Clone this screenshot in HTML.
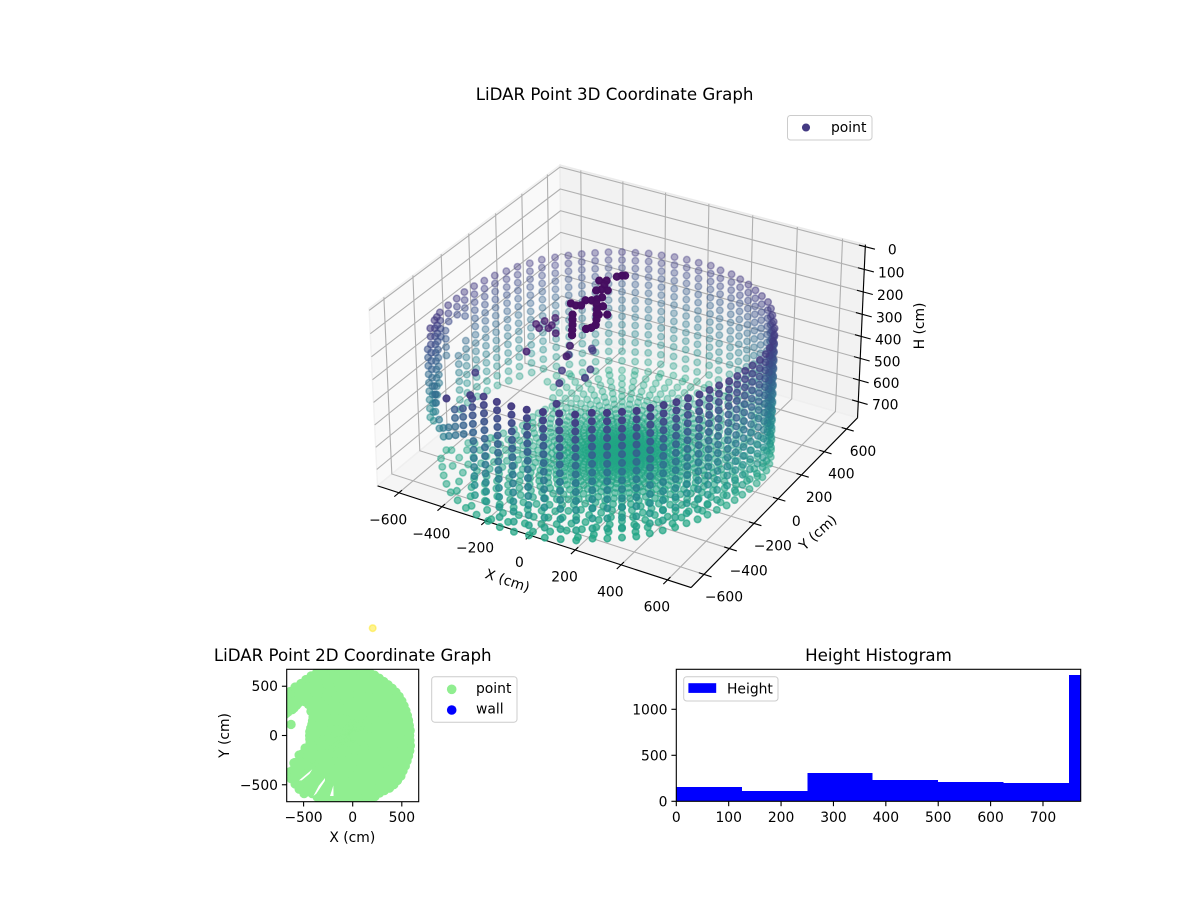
<!DOCTYPE html>
<html>
<head>
<meta charset="utf-8">
<title>LiDAR Point Graphs</title>
<style>
html,body{margin:0;padding:0;background:#fff;}
svg{display:block;font-family:"DejaVu Sans","Liberation Sans",sans-serif;}
text{fill:#000;}
.t{font-size:13.89px;}
.title{font-size:16.67px;text-anchor:middle;}
</style>
</head>
<body>
<svg id="figure" xmlns="http://www.w3.org/2000/svg" width="1200" height="900" viewBox="0 0 1200 900">
  <defs>
    <clipPath id="planClip"><rect x="286.7" y="669.3" width="132" height="132.4"/></clipPath>
    <clipPath id="histClip"><rect x="676.3" y="669.3" width="404.4" height="132"/></clipPath>
  </defs>
  <g id="chart3d"></g>
  <text class="title" x="614.6" y="100">LiDAR Point 3D Coordinate Graph</text>
  <text class="t" text-anchor="middle" transform="translate(506,585) rotate(18.5)">X (cm)</text>
  <text class="t" text-anchor="middle" transform="translate(821,536) rotate(-42)">Y (cm)</text>
  <text class="t" text-anchor="middle" transform="translate(924,326) rotate(-90)">H (cm)</text>
  <g>
    <rect x="787.5" y="115.5" width="84.5" height="24.5" rx="3" fill="#fff" fill-opacity="0.8" stroke="#ccc"/>
    <circle cx="806" cy="127.5" r="3.3" fill="#443a83" stroke="#443a83" stroke-width="1.5"/>
    <text class="t" x="831" y="132">point</text>
  </g>

  <g id="plan">
    <g id="planPoints" clip-path="url(#planClip)"></g>
    <rect x="286.7" y="669.3" width="132" height="132.4" fill="none" stroke="#000" stroke-width="1.11"/>
    <g id="planTicks"></g>
  </g>
  <text class="title" x="352.7" y="661">LiDAR Point 2D Coordinate Graph</text>
  <text class="t" x="352.3" y="842" text-anchor="middle">X (cm)</text>
  <text class="t" text-anchor="middle" transform="translate(229,735.5) rotate(-90)">Y (cm)</text>
  <g>
    <rect x="431.7" y="676.7" width="85.3" height="45.5" rx="3" fill="#fff" fill-opacity="0.8" stroke="#ccc"/>
    <circle cx="451.7" cy="689.3" r="4.8" fill="#90ee90"/>
    <text class="t" x="476" y="693">point</text>
    <circle cx="451.7" cy="710" r="4.8" fill="#0000ff"/>
    <text class="t" x="476" y="713.5">wall</text>
  </g>

  <g id="hist">
    <g id="histBars" clip-path="url(#histClip)" shape-rendering="crispEdges"></g>
    <rect x="676.3" y="669.3" width="404.4" height="132" fill="none" stroke="#000" stroke-width="1.11"/>
    <g id="histTicks"></g>
  </g>
  <text class="title" x="878.5" y="661">Height Histogram</text>
  <g>
    <rect x="683.7" y="676.7" width="94.3" height="24.3" rx="3" fill="#fff" fill-opacity="0.8" stroke="#ccc"/>
    <rect x="688.4" y="683.2" width="27.8" height="9.7" fill="#0000ff"/>
    <text class="t" x="727" y="693.5">Height</text>
  </g>
</svg>
<script>
// ---- 3D axis values ----
const xTicks = [-600,-400,-200,0,200,400,600];
const yTicks = [-600,-400,-200,0,200,400,600];
const hTicks = [0,100,200,300,400,500,600,700];
const wallRowHeights = [220,256,292,328,365,402,440,478,516,555,595,635,680,725];
const wallAzimuth = [0,5,10,15,20,25,30,35,40,45,50,55,60,65,70,75,80,85,90,95,100,105,110,115,120,125,130,135,140,145,150,155,160,165,170,175,180,185,185,190,190,195,196,200,203,205,208,210,215,220,225,230,235,240,245,250,255,260,265,270,275,280,285,290,295,300,305,310,315,320,325,330,335,340,345,350,355];
const wallRadius = [558,565,570,572,575,576,577,578,582,590,597,595,596,599,601,605,600,608,603,604,606,604,608,607,611,613,613,616,620,625,632,632,638,640,648,654,662,672,672,677,677,690,700,706,710,715,740,725,715,715,715,715,715,715,715,715,712,706,698,688,675,662,652,627,620,611,606,592,583,577,568,564,557,553,556,554,555];
const wallRowFrom = [0,0,0,0,0,0,0,0,0,0,0,0,0,0,0,0,0,0,0,0,0,0,0,0,0,0,0,0,0,0,0,0,0,0,0,0,0,0,6,0,7,0,3,0,0,0,3,0,6,6,8,8,7,4,3,1,0,0,0,0,0,0,0,0,0,0,0,0,0,0,0,0,0,0,0,0,0];
const wallRowTo = [13,13,13,13,13,13,13,13,13,13,13,13,13,13,13,13,13,13,13,13,13,13,13,13,13,13,13,13,13,13,13,13,13,13,13,13,13,3,13,2,13,2,6,3,8,9,11,11,9,7,9,9,8,7,6,12,12,13,13,13,13,13,13,13,13,13,13,13,13,13,13,13,13,13,13,13,13];
const floorAzimuth = [0,5,10,15,20,25,30,35,40,45,50,55,60,65,70,75,80,85,90,95,100,105,110,115,120,125,130,135,140,145,150,155,160,165,170,175,180,185,190,195,200,205,210,215,220,225,230,235,240,245,250,255,260,265,270,275,280,285,290,295,300,305,310,315,320,325,330,335,340,345,350,355];
const floorExtent = [558,565,570,572,575,576,577,578,582,590,597,595,596,599,601,605,600,608,603,604,606,604,608,607,611,613,613,616,620,625,600,480,430,430,430,430,430,430,450,480,520,600,680,700,700,705,710,715,715,715,710,706,706,698,688,675,662,652,627,620,611,606,592,583,577,568,564,557,553,556,554,555];
const floorRings = [20,40,65,90,115,140,165,195,225,255,290,325,365,405,450,500,550,600,660];
const floorRingsAlternate = [30,52,78,102,128,152,180,210,240,272,307,345,385,428,475,525,575,630,690];
const floorHeight = 770;
// dark returns above the floor: x, y, height (cm)
const clutterX = [-111,-87,-70,-76,-56,-43,-34,-43,-77,-109,-67,-85,-80,-67,-54,-44,-24,-4,15,34,51,48,36,22,49,4,-62,-43,-23,-4,15];
const clutterY = [-188,-192,-183,-141,-129,-113,-90,-33,1,17,-39,31,-55,77,94,100,-147,-180,-214,-247,-282,-309,-326,-210,-194,-148,-258,-291,-324,-358,-391];
const clutterH = [50,50,50,50,50,50,50,50,50,50,50,50,50,50,50,50,50,50,50,50,50,50,50,50,50,50,50,50,50,50,50];
const strayX = [-188,-162,-172,-132,-150,-133,-89,4,33,-130,-21,-72,-34,5,-10,53,67,72,-303,-232,-294];
const strayY = [-312,-333,-277,-316,-237,-290,-335,-388,-461,-475,-189,-272,-384,-468,-201,-325,-388,-599,-557,-703,-766];
const strayH = [100,100,100,100,100,100,100,100,100,120,220,220,220,220,220,220,220,220,220,220,220];
const outlierX = [-602];
const outlierY = [-866];
const outlierH = [1300];

// ---- 2D plan values ----
const planTicks = [-500,0,500];
const planAzimuth = [0,5,10,15,20,25,30,35,40,45,50,55,60,65,70,75,80,85,90,95,100,105,110,115,120,125,130,135,140,145,150,155,160,165,170,175,180,185,190,195,200,205,210,215,220,225,230,235,240,245,250,255,260,265,270,275,280,285,290,295,300,305,310,315,320,325,330,335,340,345,350,355];
const planExtent = [580,587,585,588,592,597,603,610,617,622,625,628,632,640,650,665,685,695,700,710,715,720,725,730,735,738,740,745,765,778,490,445,435,430,433,438,438,438,440,500,580,660,740,765,765,770,770,720,722,740,730,710,700,700,700,700,700,690,660,645,645,652,650,645,640,625,618,610,605,600,596,585];
const planRings = [20,40,65,90,115,140,165,195,225,255,290,325,365,405,450,500,550,600,650,700,740];
const planBandAzimuth = [147,150,152,155,157,160,162,165,167];
const planBandStart = [640,645,650,660,670,700,715,735,750];
const planBlobX = [-628];
const planBlobY = [112];
const planSliverA = [[-546,-455],[-411,-343],[-440,-390],[-520,-455]];
const planSliverB = [[-400,-614],[-345,-510],[-282,-431],[-284,-462],[-370,-590]];
const planSliverC = [[-231,-614],[-197,-506],[-195,-614]];

// ---- histogram values ----
const histEdges = [0,125,250,375,500,625,750,875];
const histCounts = [156,112,308,232,210,199,1373];
const histXTicks = [0,100,200,300,400,500,600,700];
const histYTicks = [0,500,1000];

// ---- axis functions ----
const NS = 'http://www.w3.org/2000/svg';
const xyLimit = 700, hTop = -9, hBottom = 775;
const halfXY = 0.5952, halfH = 0.3346, camDist = 10;
const radialCalibration = 700 / 680;
function project(x, y, h) {
  const dx = x / xyLimit * halfXY;
  const dy = y / xyLimit * halfXY;
  const dz = ((hTop + hBottom) / 2 - h) / (hBottom - hTop) * 2 * halfH;
  const cu = 0.866 * dx + 0.5 * dy;
  const cv = -0.25 * dx + 0.433 * dy + 0.866 * dz;
  const cw = 0.433 * dx - 0.75 * dy + 0.5 * dz;
  const w = camDist - cw;
  return {X: 622 + 3000 * cu / w, Y: 365 - 3025 * cv / w, depth: cw};
}
function planX(v) { return 352.7 + v * 132 / 1344; }
function planY(v) { return 735.5 - v * 132.4 / 1344; }
function histX(v) { return 676.3 + v * 404.4 / 772; }
function histY(v) { return 801.3 - v * 0.092; }
const viridisStops = ['#440154','#482475','#414487','#355f8d','#2a788e','#21918c','#22a884','#44bf70','#7ad151','#bddf26','#fde725'];
function hexChannel(c, i) { return parseInt(c.substr(1 + i * 2, 2), 16); }
function viridis(t) {
  const p = Math.max(0, Math.min(1, t)) * 10;
  const i = Math.min(9, Math.floor(p));
  const f = p - i;
  const ch = [0,1,2].map(function (k) {
    return Math.round(hexChannel(viridisStops[i], k) * (1 - f) + hexChannel(viridisStops[i + 1], k) * f);
  });
  return 'rgb(' + ch.join(',') + ')';
}
function make(tag, parent, attrs) {
  const el = document.createElementNS(NS, tag);
  for (const k in attrs) el.setAttribute(k, attrs[k]);
  parent.appendChild(el);
  return el;
}
function pts(list) {
  return list.map(function (p) { return p.X.toFixed(2) + ',' + p.Y.toFixed(2); }).join(' ');
}

// ---- 3D chart ----
const g3 = document.getElementById('chart3d');
const xA = -xyLimit, xB = xyLimit, yA = -xyLimit, yB = xyLimit;

const paneLeft = make('polygon', g3, {points: pts([project(xA,yA,hBottom),project(xA,yB,hBottom),project(xA,yB,hTop),project(xA,yA,hTop)]), fill: '#f9f9f9', stroke: '#f2f2f2', 'stroke-width': 1.5});


const paneBack = make('polygon', g3, {points: pts([project(xA,yB,hBottom),project(xB,yB,hBottom),project(xB,yB,hTop),project(xA,yB,hTop)]), fill: '#f2f2f2', stroke: '#ebebeb', 'stroke-width': 1.5});


const paneFloor = make('polygon', g3, {points: pts([project(xA,yA,hBottom),project(xB,yA,hBottom),project(xB,yB,hBottom),project(xA,yB,hBottom)]), fill: '#f5f5f5', stroke: '#efefef', 'stroke-width': 1.5});



const gridStyle = {fill: 'none', stroke: '#b0b0b0', 'stroke-width': 1.11};
xTicks.forEach(function (v) {
  const line = make('polyline', g3, Object.assign({points: pts([project(v,yA,hBottom),project(v,yB,hBottom),project(v,yB,hTop)])}, gridStyle));
  
  
});
yTicks.forEach(function (v) {
  const line = make('polyline', g3, Object.assign({points: pts([project(xB,v,hBottom),project(xA,v,hBottom),project(xA,v,hTop)])}, gridStyle));
  
  
});
hTicks.forEach(function (v) {
  const line = make('polyline', g3, Object.assign({points: pts([project(xA,yA,v),project(xA,yB,v),project(xB,yB,v)])}, gridStyle));
  
  
});

const axisStyle = {stroke: '#000', 'stroke-width': 1.11, fill: 'none'};
const xAxisLine = make('polyline', g3, Object.assign({points: pts([project(xA,yA,hBottom),project(xB,yA,hBottom)])}, axisStyle));


const yAxisLine = make('polyline', g3, Object.assign({points: pts([project(xB,yA,hBottom),project(xB,yB,hBottom)])}, axisStyle));


const hAxisLine = make('polyline', g3, Object.assign({points: pts([project(xB,yB,hTop),project(xB,yB,hBottom)])}, axisStyle));



xTicks.forEach(function (v) {
  const tick = make('polyline', g3, Object.assign({points: pts([project(v,yA-32,hBottom),project(v,yA+22,hBottom)])}, axisStyle));
  
  
  const p = project(v,yA,hBottom);
  const label = make('text', g3, {class: 't', x: p.X - 10.7, y: p.Y + 31.5, 'text-anchor': 'middle'});
  label.textContent = String(v).replace('-', '\u2212');
  
  
});
yTicks.forEach(function (v) {
  const tick = make('polyline', g3, Object.assign({points: pts([project(xB+32,v,hBottom),project(xB-22,v,hBottom)])}, axisStyle));
  
  
  const p = project(xB,v,hBottom);
  const label = make('text', g3, {class: 't', x: p.X + 18.2 - v * 0.003, y: p.Y + 27, 'text-anchor': 'middle'});
  label.textContent = String(v).replace('-', '\u2212');
  
  
});
hTicks.forEach(function (v) {
  const tick = make('polyline', g3, Object.assign({points: pts([project(xB-28,yB,v),project(xB+42,yB,v)])}, axisStyle));
  
  
  const p = project(xB,yB,v);
  const label = make('text', g3, {class: 't', x: p.X + 27, y: p.Y + 8, 'text-anchor': 'middle'});
  label.textContent = String(v);
  
  
});

// gather the 3D cloud from the arrays
const cloud = [];
wallAzimuth.forEach(function (az, i) {
  const a = az * Math.PI / 180;
  for (let r = wallRowFrom[i]; r <= wallRowTo[i]; r++) {
    cloud.push([wallRadius[i] * Math.cos(a), wallRadius[i] * Math.sin(a), wallRowHeights[r]]);
  }
});
floorAzimuth.forEach(function (az, i) {
  const a = az * Math.PI / 180;
  const rings = i % 2 ? floorRingsAlternate : floorRings;
  rings.forEach(function (ring) {
    if (ring < floorExtent[i] - 15) cloud.push([ring * Math.cos(a), ring * Math.sin(a), floorHeight]);
  });
  cloud.push([floorExtent[i] * Math.cos(a), floorExtent[i] * Math.sin(a), floorHeight]);
});
const clutterReturns = 4;
clutterX.forEach(function (x, i) {
  for (let k = 0; k < clutterReturns; k++) cloud.push([x, clutterY[i], clutterH[i]]);
});
strayX.forEach(function (x, i) { cloud.push([x, strayY[i], strayH[i]]); });
outlierX.forEach(function (x, i) { cloud.push([x, outlierY[i], outlierH[i]]); });

const heightMax = Math.max.apply(null, cloud.map(function (c) { return c[2]; }));
const projected = cloud.map(function (c) {
  const p = project(c[0] * radialCalibration, c[1] * radialCalibration, c[2]);
  p.color = viridis(c[2] / heightMax);
  return p;
});
let depthMin = Infinity, depthMax = -Infinity;
projected.forEach(function (p) { depthMin = Math.min(depthMin, p.depth); depthMax = Math.max(depthMax, p.depth); });
projected.sort(function (a, b) { return a.depth - b.depth; });
const cloudGroup = make('g', g3, {});


projected.forEach(function (p) {
  const t = (p.depth - depthMin) / (depthMax - depthMin);
  const alpha = 0.35 + 0.65 * t * t;
  const dot = make('circle', cloudGroup, {cx: p.X.toFixed(2), cy: p.Y.toFixed(2), r: 3.3, fill: p.color, stroke: p.color, 'stroke-width': 1.5, 'fill-opacity': alpha.toFixed(3), 'stroke-opacity': alpha.toFixed(3)});
  
  
});

// ---- 2D plan ----
const planG = document.getElementById('planPoints');
const planR = 4.7;
planAzimuth.forEach(function (az, i) {
  const a = az * Math.PI / 180;
  planRings.concat([planExtent[i]]).forEach(function (ring) {
    if (ring > planExtent[i]) return;
    const dot = make('circle', planG, {cx: planX(ring * Math.cos(a)).toFixed(2), cy: planY(ring * Math.sin(a)).toFixed(2), r: planR, fill: '#90ee90'});
    
    
  });
});
planBandAzimuth.forEach(function (az, i) {
  const a = az * Math.PI / 180;
  for (let ring = planBandStart[i]; ring < 860; ring += 40) {
    const dot = make('circle', planG, {cx: planX(ring * Math.cos(a)).toFixed(2), cy: planY(ring * Math.sin(a)).toFixed(2), r: planR, fill: '#90ee90'});
    
    
  }
});
planBlobX.forEach(function (x, i) {
  const dot = make('circle', planG, {cx: planX(x), cy: planY(planBlobY[i]), r: planR, fill: '#90ee90'});
  
  
});
[planSliverA, planSliverB, planSliverC].forEach(function (s) {
  const gap = make('polygon', planG, {points: s.map(function (p) { return planX(p[0]).toFixed(2) + ',' + planY(p[1]).toFixed(2); }).join(' '), fill: '#fff'});
  
  
});
const planTickG = document.getElementById('planTicks');
planTicks.forEach(function (v) {
  const tx = make('line', planTickG, {x1: planX(v), x2: planX(v), y1: 801.7, y2: 806.5, stroke: '#000', 'stroke-width': 1.11});
  
  
  const lx = make('text', planTickG, {class: 't', x: planX(v), y: 822, 'text-anchor': 'middle'});
  lx.textContent = String(v).replace('-', '\u2212');
  
  
  const ty = make('line', planTickG, {x1: 281.9, x2: 286.7, y1: planY(v), y2: planY(v), stroke: '#000', 'stroke-width': 1.11});
  
  
  const ly = make('text', planTickG, {class: 't', x: 278, y: planY(v) + 5, 'text-anchor': 'end'});
  ly.textContent = String(v).replace('-', '\u2212');
  
  
});

// ---- histogram ----
const barsG = document.getElementById('histBars');
histCounts.forEach(function (c, i) {
  const bar = make('rect', barsG, {x: histX(histEdges[i]), y: histY(c), width: histX(histEdges[i + 1]) - histX(histEdges[i]), height: histY(0) - histY(c), fill: '#0000ff'});
  
  
});
const histTickG = document.getElementById('histTicks');
histXTicks.forEach(function (v) {
  const t = make('line', histTickG, {x1: histX(v), x2: histX(v), y1: 801.3, y2: 806.2, stroke: '#000', 'stroke-width': 1.11});
  
  
  const l = make('text', histTickG, {class: 't', x: histX(v), y: 822, 'text-anchor': 'middle'});
  l.textContent = String(v);
  
  
});
histYTicks.forEach(function (v) {
  const t = make('line', histTickG, {x1: 671.4, x2: 676.3, y1: histY(v), y2: histY(v), stroke: '#000', 'stroke-width': 1.11});
  
  
  const l = make('text', histTickG, {class: 't', x: 667.5, y: histY(v) + 5, 'text-anchor': 'end'});
  l.textContent = String(v);
  
  
});
</script>
</body>
</html>
